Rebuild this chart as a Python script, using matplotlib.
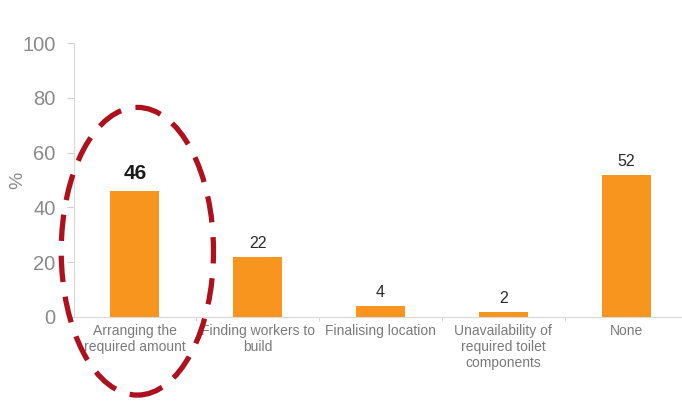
import matplotlib
matplotlib.use("Agg")
import matplotlib.pyplot as plt
from matplotlib.patches import Ellipse

categories = ["Arranging the\nrequired amount", "Finding workers to\nbuild",
              "Finalising location", "Unavailability of\nrequired toilet\ncomponents", "None"]
values = [46, 22, 4, 2, 52]
yticks = [0, 20, 40, 60, 80, 100]

plt.rcParams["font.family"] = ["Liberation Sans", "DejaVu Sans"]

fig = plt.figure(figsize=(6.82, 4.01), dpi=100)
ax = fig.add_axes([73.5 / 682, 84 / 401, 614 / 682, 274 / 401])

x = list(range(len(values)))
ax.bar(x, values, width=0.4, color="#F7951E", zorder=2)

for i, v in enumerate(values):
    if i == 0:
        ax.annotate(str(v), (i, v), xytext=(0, 6), textcoords="offset points",
                    ha="center", va="bottom", fontsize=15, fontweight="bold", color="#1a1a1a")
    else:
        ax.annotate(str(v), (i, v), xytext=(0, 4), textcoords="offset points",
                    ha="center", va="bottom", fontsize=11.5, color="#2a2a2a")

ax.set_xlim(-0.5, 4.5)
ax.set_ylim(0, 100)
ax.set_yticks(yticks)
ax.set_yticklabels([str(t) for t in yticks], fontsize=14.5, color="#8a8a8a")
ax.set_xticks(x)
ax.set_xticklabels(categories, fontsize=10, color="#7a7a7a", linespacing=1.2)
ax.tick_params(axis="x", length=0, pad=5)
ax.tick_params(axis="y", length=5, color="#d0d0d0", pad=8)
ax.set_xticks([0.5, 1.5, 2.5, 3.5], minor=True)
ax.tick_params(axis="x", which="minor", length=3, color="#d0d0d0")
ax.set_ylabel("%", fontsize=14, color="#8a8a8a", labelpad=-3)

for s in ["top", "right"]:
    ax.spines[s].set_visible(False)
ax.spines["left"].set_color("#d8d8d8")
ax.spines["bottom"].set_color("#d8d8d8")

# dashed highlight around the first bar
ell = Ellipse((0.02, 24), width=1.24, height=105, fill=False, edgecolor="#AC111D",
              linewidth=3.8, linestyle=(0, (5, 2.8)), clip_on=False, zorder=3)
ax.add_patch(ell)

fig.savefig("out.png", dpi=100)
